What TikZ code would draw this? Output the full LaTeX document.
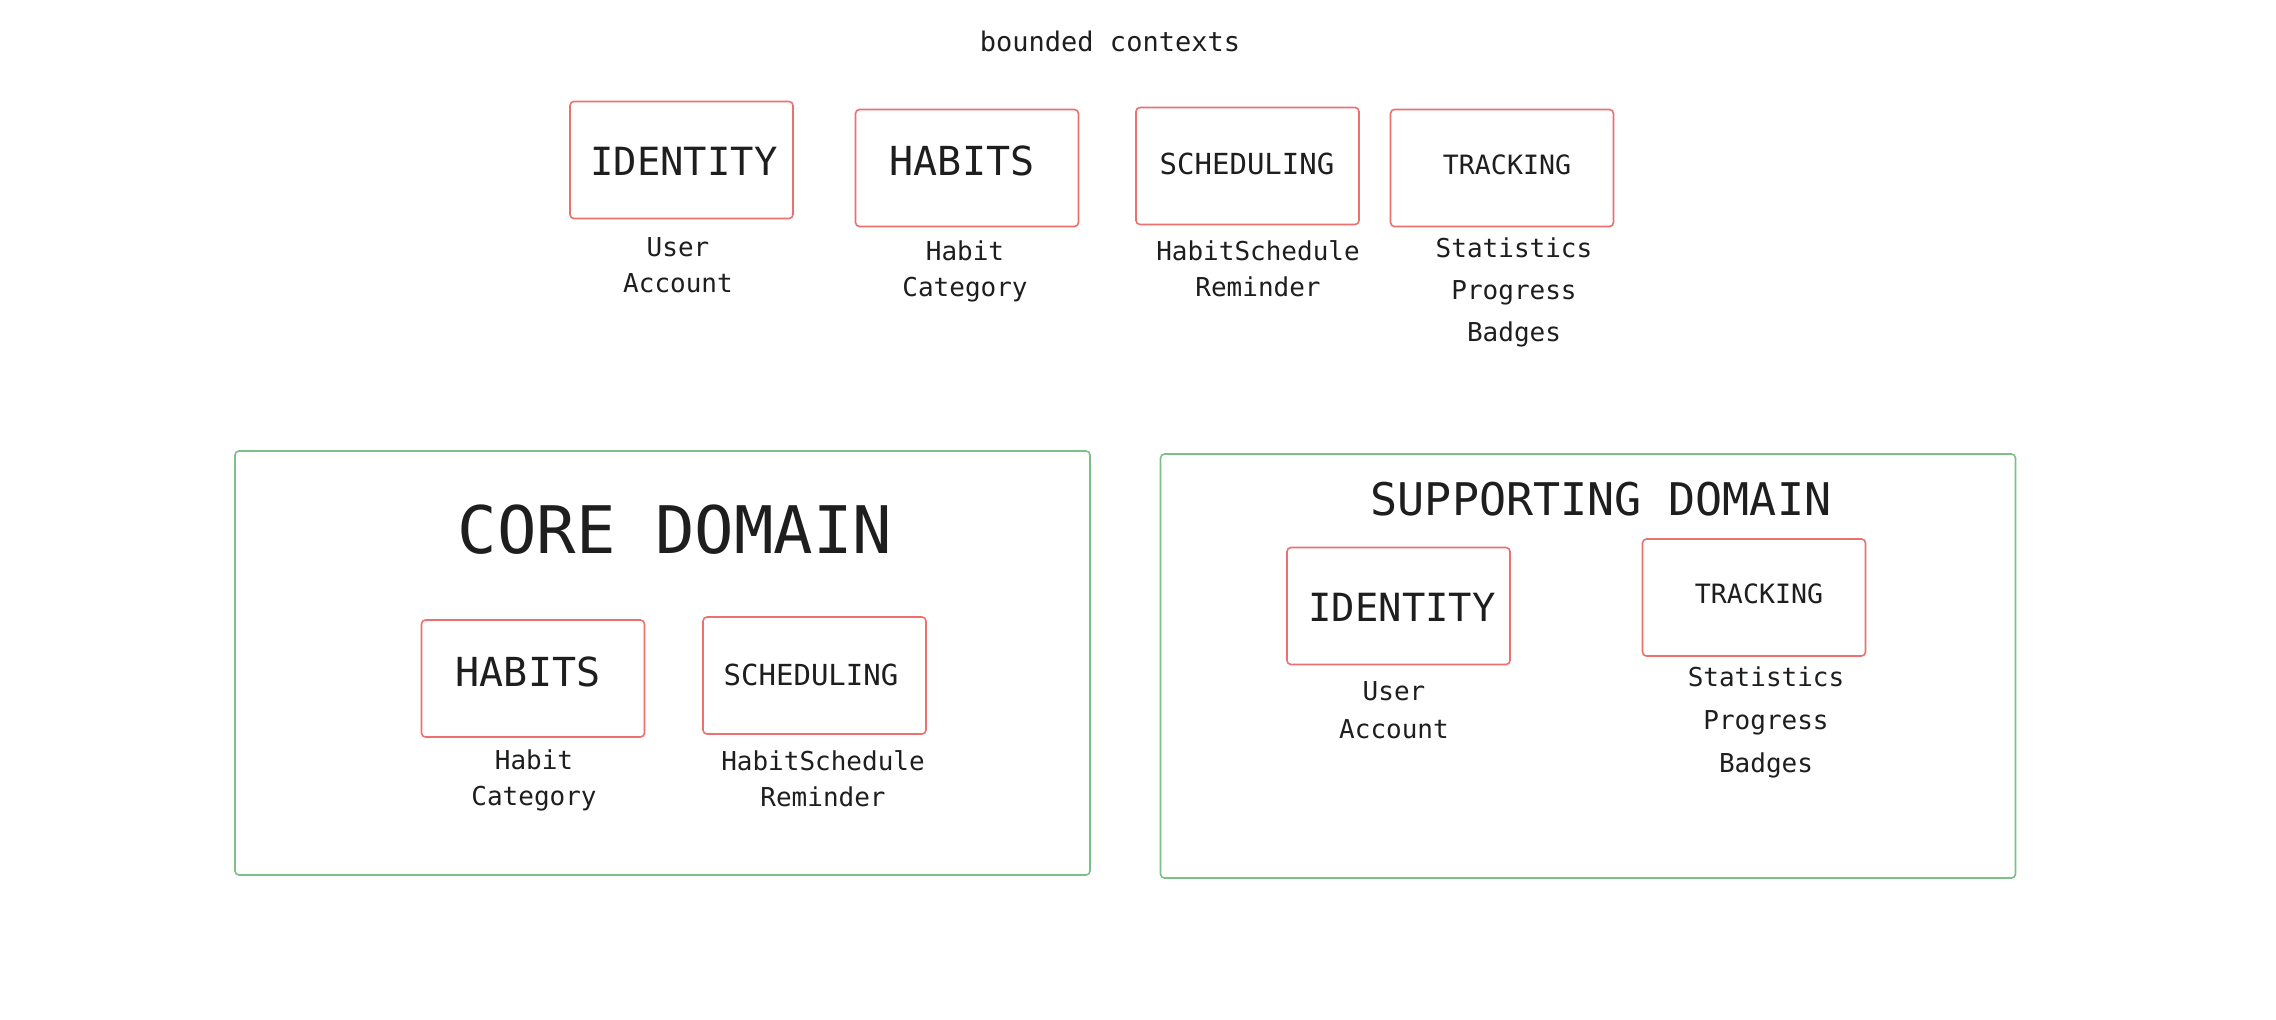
\documentclass[tikz,border=0pt]{standalone}
\usepackage{fontspec}
\newfontfamily\hand{DejaVu Sans Mono}
\definecolor{boxred}{RGB}{236,112,112}
\definecolor{domgreen}{RGB}{125,192,135}
\definecolor{ink}{RGB}{30,30,30}
\newcommand\hsz[2]{\hand\fontsize{#1}{#2}\selectfont}
\tikzset{
  ctx/.style={draw=boxred, line width=0.8pt, rounded corners=2pt, minimum width=111.5pt, minimum height=58.5pt, inner sep=0pt},
  dom/.style={draw=domgreen, line width=0.8pt, rounded corners=2pt, minimum width=427.5pt, minimum height=212pt, inner sep=0pt},
  lbl/.style={align=center, text=ink, inner sep=0pt},
  ttl/.style={text=ink, inner sep=0pt}
}
\begin{document}
\begin{tikzpicture}[x=0.5pt,y=-0.5pt]
\useasboundingbox[fill=white] (0,0) rectangle (2276,1019);
% title
\node[ttl, font=\hsz{13.5}{16}] (title) at (1110,41) {bounded contexts};
% top row
\node[ctx] (id1) at (681.5,160) {};
\node[ctx] (hab1) at (967,168) {};
\node[ctx] (sch1) at (1247.5,166) {};
\node[ctx] (trk1) at (1502,168) {};
\node[ttl, font=\hsz{19.4}{20}] (id1t) at (684,161) {IDENTITY};
\node[ttl, font=\hsz{20}{20}] (hab1t) at (962,161) {HABITS};
\node[ttl, font=\hsz{14.5}{16}] (sch1t) at (1247,164) {SCHEDULING};
\node[ttl, font=\hsz{13.3}{16}] (trk1t) at (1507,165) {TRACKING};
\node[lbl, font=\hsz{13}{18}] (lid1) at (678,265) {User\\Account};
\node[lbl, font=\hsz{13}{18}] (lhab1) at (965,271) {Habit\\Category};
\node[lbl, font=\hsz{13}{18}] (lsch1) at (1258,269) {HabitSchedule\\Reminder};
\node[lbl, font=\hsz{13}{21}] (ltrk1) at (1514,292.5) {Statistics\\Progress\\Badges};
% core domain
\node[dom] (core) at (662.5,663) {};
\node[ttl, font=\hsz{32.8}{34}] (coret) at (675,530) {CORE DOMAIN};
\node[ctx] (hab2) at (533,678.5) {};
\node[ctx] (sch2) at (814.5,675.5) {};
\node[ttl, font=\hsz{20}{20}] (hab2t) at (528,672) {HABITS};
\node[ttl, font=\hsz{14.5}{16}] (sch2t) at (811,675) {SCHEDULING};
\node[lbl, font=\hsz{13}{18}] (lhab2) at (534,780) {Habit\\Category};
\node[lbl, font=\hsz{13}{18}] (lsch2) at (823,779) {HabitSchedule\\Reminder};
% supporting domain
\node[dom] (supp) at (1588,666) {};
\node[ttl, font=\hsz{22.5}{24}] (suppt) at (1601,499) {SUPPORTING DOMAIN};
\node[ctx] (id2) at (1398.5,606) {};
\node[ctx] (trk2) at (1754,597.5) {};
\node[ttl, font=\hsz{19.4}{20}] (id2t) at (1402,607) {IDENTITY};
\node[ttl, font=\hsz{13.3}{16}] (trk2t) at (1759,594) {TRACKING};
\node[lbl, font=\hsz{13}{19}] (lid2) at (1394,710) {User\\Account};
\node[lbl, font=\hsz{13}{21.5}] (ltrk2) at (1766,722) {Statistics\\Progress\\Badges};
\end{tikzpicture}
\end{document}
